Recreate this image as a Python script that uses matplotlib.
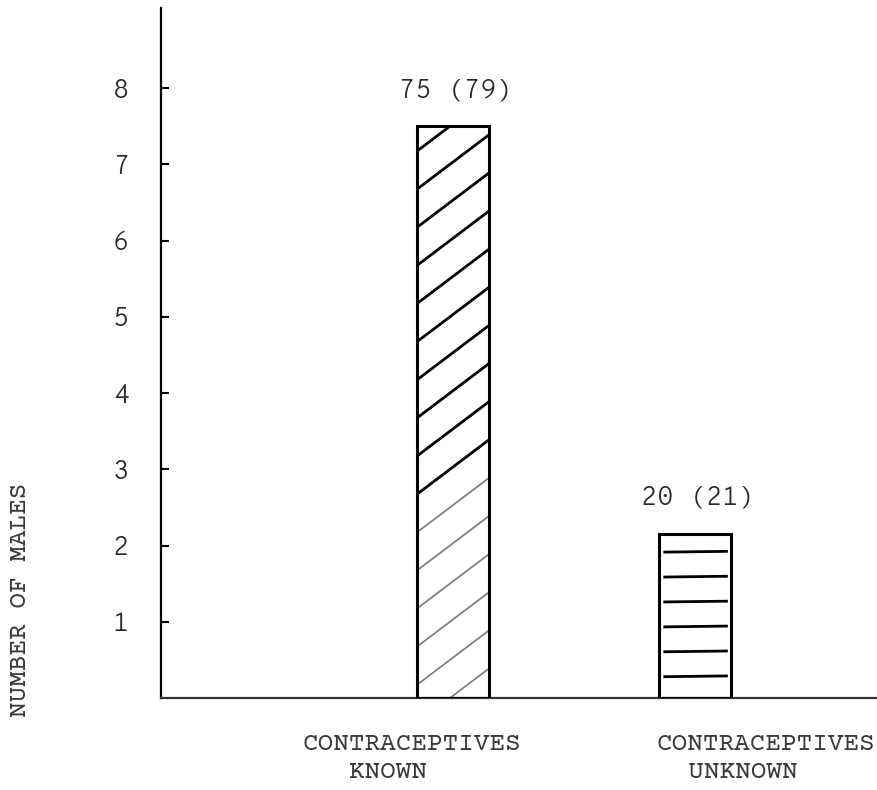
import matplotlib
matplotlib.use("Agg")
import matplotlib.pyplot as plt
import matplotlib.transforms as mtransforms
import numpy as np

# ---- data ----
categories = ["CONTRACEPTIVES\n   KNOWN", "CONTRACEPTIVES\n  UNKNOWN"]
counts = [75, 20]
percents = [79, 21]
bar_heights = [7.5, 2.15]          # drawn height (tens of males)
y_ticks = [1, 2, 3, 4, 5, 6, 7, 8]
y_label = "NUMBER OF MALES"

SERIF_MONO = ["Courier Prime", "DejaVu Sans Mono"]
SANS_MONO = ["Overpass Mono", "DejaVu Sans Mono"]
INK = "#2a2a2a"

fig = plt.figure(figsize=(8.78, 7.90), dpi=100)
fig.patch.set_facecolor("white")
ax = fig.add_axes([161 / 878, 1 - 698 / 790, 717 / 878, 690 / 790])

x = np.arange(len(categories))
unit_px = 242.0
xmin = -(453 - 161) / unit_px
ax.set_xlim(xmin, xmin + 717 / unit_px)
ax.set_ylim(0, 9.05)

bars = ax.bar(x, bar_heights, width=0.30, fill=False, edgecolor="black",
              linewidth=2.2, zorder=3)

# hatching drawn inside the bars
b0 = bars[0]
x0, w, h = b0.get_x(), b0.get_width(), b0.get_height()
rise = 0.72
for yl in np.arange(h - 0.33, -0.9, -0.5):
    light = yl < 2.4
    ln, = ax.plot([x0, x0 + w], [yl, yl + rise],
                  color="#808080" if light else "black",
                  lw=1.3 if light else 2.0, solid_capstyle="butt", zorder=2)
    ln.set_clip_path(b0)

b1 = bars[1]
x1, w1, h1 = b1.get_x(), b1.get_width(), b1.get_height()
for yl in h1 * np.linspace(0.13, 0.89, 6):
    ax.plot([x1 + 0.025, x1 + w1 - 0.02], [yl, yl + 0.01],
            color="black", lw=2.0, zorder=2)

# value labels
for xi, hi, c, p in zip(x, bar_heights, counts, percents):
    ax.annotate(f"{c} ({p})", (xi, hi), xytext=(2, 26),
                textcoords="offset points", ha="center", va="center",
                fontsize=19, family=SANS_MONO, color=INK)

# axes styling
for s in ("top", "right"):
    ax.spines[s].set_visible(False)
ax.spines["left"].set_linewidth(1.6)
ax.spines["left"].set_color("black")
ax.spines["bottom"].set_linewidth(1.6)
ax.spines["bottom"].set_color("#333333")

ax.set_yticks(y_ticks)
ax.set_yticklabels([str(t) for t in y_ticks], family=SANS_MONO,
                   fontsize=19, color=INK)
ax.tick_params(axis="y", direction="in", length=6, width=1.5, pad=23,
               color="black")
ax.set_xticks([])

# category labels (left aligned, typewriter style)
trans = mtransforms.blended_transform_factory(ax.transData, ax.transAxes)
label_offsets = [(302 - 453) / unit_px, (657 - 695) / unit_px]
for xi, lab, off in zip(x, categories, label_offsets):
    ax.text(xi + off, -0.050, lab, transform=trans, ha="left", va="top",
            family=SERIF_MONO, fontsize=18.8, color="#3a3a3a",
            linespacing=1.4, multialignment="left")

fig.text(20 / 878, 1 - 600 / 790, y_label, rotation=90, ha="center",
         va="center", family=SERIF_MONO, fontsize=18.8, color="#3a3a3a")

fig.savefig("out.png", dpi=100, facecolor="white")
